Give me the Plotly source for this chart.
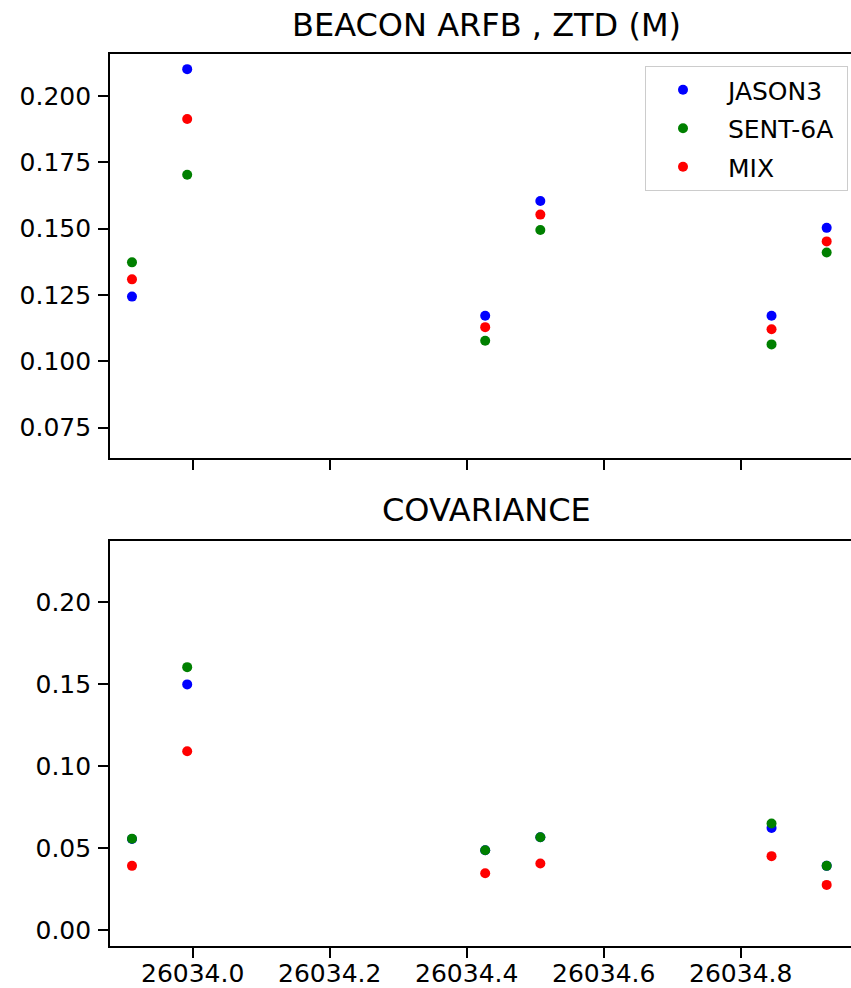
import plotly.graph_objects as go
from plotly.subplots import make_subplots

# Data (x = time, days)
x_vals = [26033.9114, 26033.9920, 26034.4270, 26034.5075, 26034.8450, 26034.9255]

ztd_jason3 = [0.1244, 0.2101, 0.1172, 0.1604, 0.1172, 0.1503]
ztd_sent6a = [0.1373, 0.1703, 0.1078, 0.1495, 0.1064, 0.1410]
ztd_mix    = [0.1309, 0.1913, 0.1129, 0.1553, 0.1121, 0.1452]

cov_jason3 = [0.0555, 0.1497, 0.0487, 0.0566, 0.0623, 0.0392]
cov_sent6a = [0.0557, 0.1602, 0.0487, 0.0566, 0.0650, 0.0392]
cov_mix    = [0.0392, 0.1090, 0.0347, 0.0406, 0.0451, 0.0276]

series_names = ["JASON3", "SENT-6A", "MIX"]
series_colors = ["blue", "green", "red"]
top_titles = ["BEACON ARFB , ZTD (M)", "COVARIANCE"]

W, H = 851, 988
ML, MR, MT, MB = 110, 0, 54, 42
pw = W - ML - MR
ph = H - MT - MB

fig = make_subplots(rows=2, cols=1, shared_xaxes=False)

top_series = [ztd_jason3, ztd_sent6a, ztd_mix]
bot_series = [cov_jason3, cov_sent6a, cov_mix]
NB = "\u00a0"
for i, name in enumerate(series_names):
    fig.add_trace(go.Scatter(x=x_vals, y=top_series[i], mode="markers",
                             name=NB + name + NB,
                             legendgroup=name,
                             marker=dict(color=series_colors[i], size=10, line=dict(width=0))),
                  row=1, col=1)
for i, name in enumerate(series_names):
    fig.add_trace(go.Scatter(x=x_vals, y=bot_series[i], mode="markers", name=name,
                             legendgroup=name, showlegend=False,
                             marker=dict(color=series_colors[i], size=10, line=dict(width=0))),
                  row=2, col=1)

def py(p):
    return (H - MB - p) / ph

def px(p):
    return (p - ML) / pw

font_fam = "DejaVu Sans"
xrange_ = [26033.8793, 26034.961]
common_x = dict(range=xrange_, tick0=26034.0, dtick=0.2, tickformat=".1f",
                showline=True, linecolor="black", linewidth=1.6, mirror=True,
                ticks="outside", ticklen=10, tickwidth=1.6, tickcolor="black",
                ticklabelstandoff=-6, automargin=False,
                showgrid=False, zeroline=False)
common_y = dict(showline=True, linecolor="black", linewidth=1.6, mirror=False,
                ticks="outside", ticklen=10, tickwidth=1.6, tickcolor="black",
                ticklabelstandoff=2, automargin=False,
                showgrid=False, zeroline=False)

fig.update_layout(
    width=W, height=H, autosize=False,
    margin=dict(l=ML, r=MR, t=MT, b=MB, autoexpand=False),
    plot_bgcolor="white", paper_bgcolor="white",
    font=dict(family=font_fam, size=25, color="black"),
    xaxis=dict(domain=[0, 1], showticklabels=False, anchor="y", **common_x),
    xaxis2=dict(domain=[0, 1], showticklabels=True, anchor="y2", **common_x),
    yaxis=dict(domain=[py(458), 1], range=[0.0636, 0.2158], tick0=0.075, dtick=0.025,
               tickformat=".3f", anchor="x", **common_y),
    yaxis2=dict(domain=[0, py(541)], range=[-0.0096, 0.237], tick0=0.0, dtick=0.05,
                tickformat=".2f", anchor="x2", **common_y),
    legend=dict(x=px(848), y=py(66), xanchor="right", yanchor="top",
                bgcolor="rgba(255,255,255,0.8)", bordercolor="#cccccc", borderwidth=1,
                font=dict(family=font_fam, size=25, color="black"),
                tracegroupgap=3, itemwidth=64),
    showlegend=True,
)

# The reference's right spine lies outside the visible area: keep the right edge open
for y0, y1 in [(py(458) + 0.002, 0.998), (0.002, py(541) - 0.002)]:
    fig.add_shape(type="line", xref="paper", yref="paper", x0=1, x1=1, y0=y0, y1=y1,
                  line=dict(color="white", width=4), layer="above")

title_x = px(486)
fig.add_annotation(text=top_titles[0], xref="paper", yref="paper", x=title_x, y=py(25),
                   xanchor="center", yanchor="middle", showarrow=False,
                   font=dict(family=font_fam, size=32, color="black"))
fig.add_annotation(text=top_titles[1], xref="paper", yref="paper", x=title_x, y=py(510),
                   xanchor="center", yanchor="middle", showarrow=False,
                   font=dict(family=font_fam, size=32, color="black"))

fig.write_html("out.html", config={"displayModeBar": False},
               post_script="document.body.style.margin='0';document.body.style.overflow='hidden';")
